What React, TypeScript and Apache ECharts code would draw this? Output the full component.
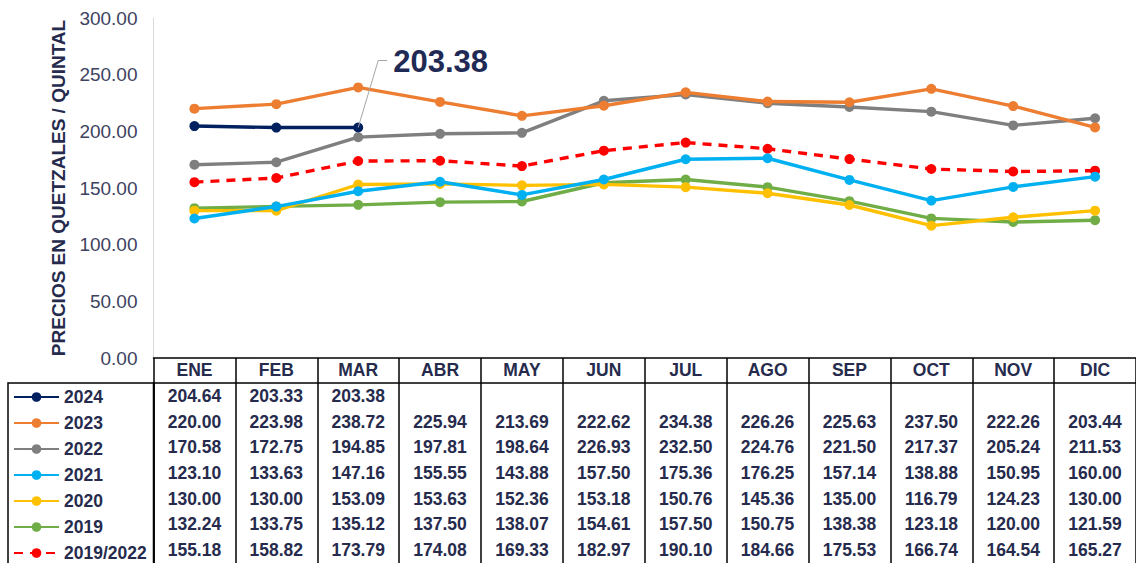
import React, { useEffect, useRef } from "react";
import * as echarts from "echarts";

const MONTHS = ["ENE", "FEB", "MAR", "ABR", "MAY", "JUN", "JUL", "AGO", "SEP", "OCT", "NOV", "DIC"];
const Y_TICKS_MAX = 300;
const Y_INTERVAL = 50;
const Y_TITLE = "PRECIOS EN QUETZALES / QUINTAL";

const S2024: (number | null)[] = [204.64, 203.33, 203.38, null, null, null, null, null, null, null, null, null];
const S2023 = [220.0, 223.98, 238.72, 225.94, 213.69, 222.62, 234.38, 226.26, 225.63, 237.5, 222.26, 203.44];
const S2022 = [170.58, 172.75, 194.85, 197.81, 198.64, 226.93, 232.5, 224.76, 221.5, 217.37, 205.24, 211.53];
const S2021 = [123.1, 133.63, 147.16, 155.55, 143.88, 157.5, 175.36, 176.25, 157.14, 138.88, 150.95, 160.0];
const S2020 = [130.0, 130.0, 153.09, 153.63, 152.36, 153.18, 150.76, 145.36, 135.0, 116.79, 124.23, 130.0];
const S2019 = [132.24, 133.75, 135.12, 137.5, 138.07, 154.61, 157.5, 150.75, 138.38, 123.18, 120.0, 121.59];
const SAVG = [155.18, 158.82, 173.79, 174.08, 169.33, 182.97, 190.1, 184.66, 175.53, 166.74, 164.54, 165.27];

const SERIES_NAMES = ["2024", "2023", "2022", "2021", "2020", "2019", "2019/2022"];
const SERIES_VALUES = [S2024, S2023, S2022, S2021, S2020, S2019, SAVG];
const SERIES_COLORS = ["#002060", "#ED7D31", "#7F7F7F", "#00B0F0", "#FFC000", "#70AD47", "#FF0000"];
const SERIES_DASHED = [false, false, false, false, false, false, true];

const HIGHLIGHT_SERIES = 0;
const HIGHLIGHT_INDEX = 2;

const FONT = "'Liberation Sans', Arial, sans-serif";
const TEXT = "#262b4d";

export default function App() {
  const ref = useRef<HTMLDivElement>(null);

  useEffect(() => {
    if (!ref.current) return;
    const chart = echarts.init(ref.current, undefined, { renderer: "svg" });

    const gridLeft = 153.5;
    const gridRight = -12.5;

    const lineSeries = SERIES_NAMES.map((name, i) => ({
      name,
      type: "line",
      xAxisIndex: 0,
      yAxisIndex: 0,
      data: SERIES_VALUES[i],
      symbol: "circle",
      symbolSize: 10,
      showSymbol: true,
      connectNulls: false,
      z: 10 - i,
      itemStyle: { color: SERIES_COLORS[i] },
      lineStyle: {
        color: SERIES_COLORS[i],
        width: 3.4,
        type: SERIES_DASHED[i] ? [9, 7] : "solid",
      },
    }));

    const tableData: any[] = [];
    SERIES_VALUES.forEach((vals, r) => {
      vals.forEach((v, c) => {
        if (v !== null && v !== undefined) tableData.push([c, r, v]);
      });
    });

    chart.setOption({
      animation: false,
      textStyle: { fontFamily: FONT },
      grid: [
        { left: gridLeft, right: gridRight, top: 18, height: 340 },
        { left: gridLeft, right: gridRight, top: 383, height: 182 },
      ],
      legend: {
        data: SERIES_NAMES,
        orient: "vertical",
        left: 13,
        top: 388,
        height: 260,
        padding: 0,
        itemWidth: 45,
        itemHeight: 12,
        itemGap: 8,
        textStyle: {
          fontFamily: FONT,
          fontSize: 17.5,
          fontWeight: "bold",
          color: TEXT,
          lineHeight: 18,
        },
        selectedMode: false,
      },
      xAxis: [
        {
          type: "category",
          gridIndex: 0,
          data: MONTHS,
          axisLine: { show: true, lineStyle: { color: "#000", width: 1.5 } },
          axisTick: { show: false },
          axisLabel: { show: false },
          splitLine: { show: false },
        },
        {
          type: "category",
          gridIndex: 1,
          data: MONTHS,
          position: "top",
          axisLine: { show: true, lineStyle: { color: "#000", width: 1.5 } },
          axisTick: { show: true, length: 25, lineStyle: { color: "#000", width: 1.5 } },
          axisLabel: {
            show: true,
            margin: 4,
            fontFamily: FONT,
            fontSize: 17.5,
            fontWeight: "bold",
            color: TEXT,
          },
          splitLine: { show: true, lineStyle: { color: "#000", width: 1.5 } },
        },
      ],
      yAxis: [
        {
          type: "value",
          gridIndex: 0,
          min: 0,
          max: Y_TICKS_MAX,
          interval: Y_INTERVAL,
          name: Y_TITLE,
          nameLocation: "middle",
          nameRotate: 90,
          nameGap: 72,
          nameTextStyle: {
            fontFamily: FONT,
            fontSize: 19,
            fontWeight: "bold",
            color: TEXT,
          },
          axisLine: { show: true, lineStyle: { color: "#D9D9D9", width: 1 } },
          axisTick: { show: false },
          splitLine: { show: false },
          axisLabel: {
            margin: 16,
            fontFamily: FONT,
            fontSize: 19,
            color: "#3e4260",
            formatter: (v: number) => v.toFixed(2),
          },
        },
        {
          type: "category",
          gridIndex: 1,
          data: SERIES_NAMES,
          inverse: true,
          axisLine: { show: true, lineStyle: { color: "#000", width: 1.5 } },
          axisTick: { show: false },
          axisLabel: { show: false },
          splitLine: { show: false },
        },
      ],
      series: [
        ...lineSeries,
        {
          name: "tabla",
          type: "custom",
          xAxisIndex: 1,
          yAxisIndex: 1,
          data: tableData,
          encode: { x: 0, y: 1 },
          silent: true,
          z: 20,
          renderItem: (params: any, api: any) => {
            const c = api.coord([api.value(0), api.value(1)]);
            return {
              type: "text",
              x: c[0],
              y: c[1],
              style: {
                text: Number(api.value(2)).toFixed(2),
                fontFamily: FONT,
                fontSize: 17.5,
                fontWeight: "bold",
                fill: TEXT,
                align: "center",
                verticalAlign: "middle",
              },
            };
          },
        },
      ],
    });

    const hv = SERIES_VALUES[HIGHLIGHT_SERIES][HIGHLIGHT_INDEX] as number;
    const pt = chart.convertToPixel({ xAxisIndex: 0, yAxisIndex: 0 }, [HIGHLIGHT_INDEX, hv]) as number[];
    const elbow = [pt[0] + 20, pt[1] - 67];
    chart.setOption({
      graphic: [
        {
          type: "rect",
          shape: { x: 8, y: 383, width: gridLeft - 8, height: 200 },
          style: { fill: "none", stroke: "#000", lineWidth: 1.5 },
          silent: true,
        },
        {
          type: "polyline",
          shape: { points: [pt, elbow, [elbow[0] + 9, elbow[1]]] },
          style: { stroke: "#A6A6A6", lineWidth: 1, fill: "none" },
          silent: true,
          z: 20,
        },
        {
          type: "text",
          x: elbow[0] + 15,
          y: elbow[1] + 1,
          style: {
            text: hv.toFixed(2),
            fontFamily: FONT,
            fontSize: 31,
            fontWeight: "bold",
            fill: "#1f2a55",
            verticalAlign: "middle",
            align: "left",
          },
          silent: true,
          z: 20,
        },
      ],
    });

    return () => chart.dispose();
  }, []);

  return (
    <div
      ref={ref}
      style={{ position: "fixed", left: 0, top: 0, width: 1136, height: 563, background: "#fff" }}
    />
  );
}
